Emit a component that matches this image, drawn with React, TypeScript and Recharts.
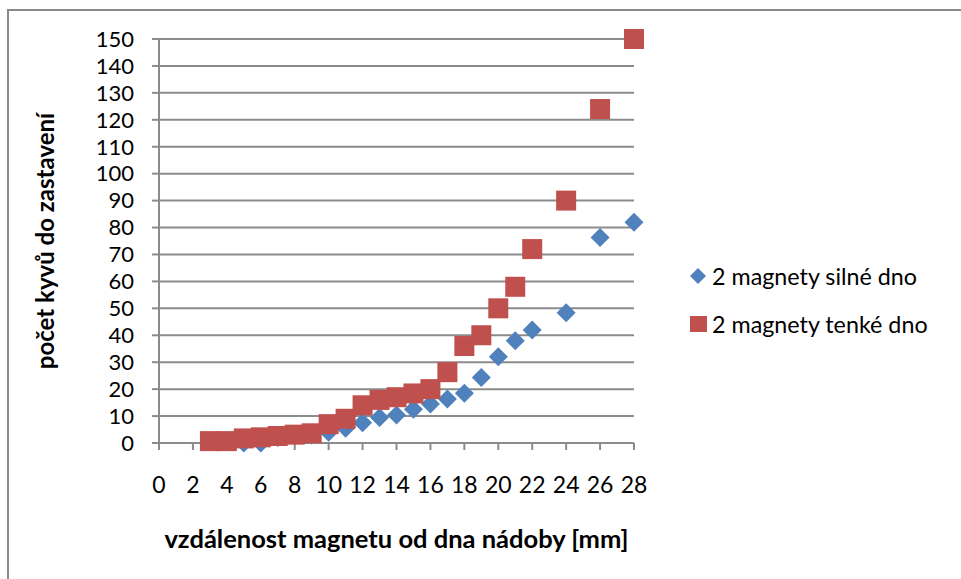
import { ScatterChart, Scatter, XAxis, YAxis, CartesianGrid, Label } from 'recharts';

// vzdálenost [mm] a počet kyvů – silné dno
const silneDist = [5, 6, 7, 8, 9, 10, 11, 12, 13, 14, 15, 16, 17, 18, 19, 20, 21, 22, 24, 26, 28];
const silneKyvy = [0, 0, 2, 3, 3, 4, 5.5, 7.5, 9.5, 10.4, 12.5, 14.5, 16.3, 18.5, 24.3, 32, 38, 42, 48.4, 76.3, 82];

// vzdálenost [mm] a počet kyvů – tenké dno
const tenkeDist = [3, 4, 5, 6, 7, 8, 9, 10, 11, 12, 13, 14, 15, 16, 17, 18, 19, 20, 21, 22, 24, 26, 28];
const tenkeKyvy = [0.7, 0.7, 1.7, 2.1, 2.6, 3.1, 3.6, 7, 9, 14, 16, 17, 18.4, 20, 26.3, 36, 40, 50, 58, 72, 90, 124, 150];

const xTicks = [0, 2, 4, 6, 8, 10, 12, 14, 16, 18, 20, 22, 24, 26, 28];
const yTicks = [0, 10, 20, 30, 40, 50, 60, 70, 80, 90, 100, 110, 120, 130, 140, 150];

const seriesNames = ['2 magnety silné dno', '2 magnety tenké dno'];

const BLUE = '#4F81BD';
const RED = '#C0504D';
const GRID = '#8b8b8b';
const FONT = 'Lato, "Open Sans", sans-serif';

const silne = silneDist.map((x, i) => ({ x, y: silneKyvy[i] }));
const tenke = tenkeDist.map((x, i) => ({ x, y: tenkeKyvy[i] }));

const Diamond = (props: any) => {
  const { cx, cy } = props;
  const r = 9.5;
  return (
    <polygon
      points={`${cx},${cy - r} ${cx + r},${cy} ${cx},${cy + r} ${cx - r},${cy}`}
      fill={BLUE}
    />
  );
};

const Square = (props: any) => {
  const { cx, cy } = props;
  return <rect x={cx - 10} y={cy - 10} width={20} height={20} fill={RED} />;
};

const tickStyle = { fill: '#000', fontSize: 22, fontFamily: FONT };

const LegendBox = () => (
  <div
    style={{
      position: 'absolute',
      left: 688,
      top: 252,
      fontFamily: FONT,
      fontSize: 23.3,
      color: '#000',
    }}
  >
    {seriesNames.map((name, i) => (
      <div key={name} style={{ display: 'flex', alignItems: 'center', height: 48 }}>
        <svg width={22} height={22} style={{ marginRight: 2 }}>
          {i === 0 ? (
            <polygon points="10,3 18,11 10,19 2,11" fill={BLUE} />
          ) : (
            <rect x={2} y={3} width={17} height={16} fill={RED} />
          )}
        </svg>
        <span style={{ lineHeight: '48px' }}>{name}</span>
      </div>
    ))}
  </div>
);

export default function App() {
  return (
    <div
      style={{
        position: 'absolute',
        left: 0,
        top: 0,
        width: 961,
        height: 579,
        overflow: 'hidden',
        background: '#fff',
      }}
    >
      <div
        style={{
          position: 'absolute',
          left: 7,
          top: 9,
          width: 1000,
          height: 1000,
          border: `2px solid ${GRID}`,
        }}
      />
      <div style={{ position: 'absolute', left: 0, top: 0 }}>
        <ScatterChart width={961} height={579} margin={{ top: 39, right: 327, bottom: 0, left: 0 }}>
          <CartesianGrid vertical={false} stroke={GRID} strokeWidth={2} />
          <XAxis
            type="number"
            dataKey="x"
            domain={[0, 28]}
            ticks={xTicks}
            interval={0}
            height={136}
            stroke={GRID}
            strokeWidth={2}
            tickSize={7}
            tickMargin={27}
            tick={{ ...tickStyle, fontSize: 23 }}
          >
            <Label
              content={(p: any) => {
                const vb = p.viewBox;
                return (
                  <text
                    x={vb.x + vb.width / 2}
                    y={vb.y + 95}
                    textAnchor="middle"
                    dominantBaseline="central"
                    fontFamily={FONT}
                    fontSize={25.5}
                    fontWeight="bold"
                    fill="#000"
                  >
                    vzdálenost magnetu od dna nádoby [mm]
                  </text>
                );
              }}
            />
          </XAxis>
          <YAxis
            type="number"
            dataKey="y"
            domain={[0, 150]}
            ticks={yTicks}
            interval={0}
            width={159}
            stroke={GRID}
            strokeWidth={2}
            tickSize={7}
            tickMargin={18}
            tick={tickStyle}
          >
            <Label
              content={(p: any) => {
                const vb = p.viewBox;
                const cx = vb.x + 44;
                const cy = vb.y + vb.height / 2;
                return (
                  <text
                    x={cx}
                    y={cy}
                    transform={`rotate(-90 ${cx} ${cy})`}
                    textAnchor="middle"
                    dominantBaseline="central"
                    fontFamily={FONT}
                    fontSize={24}
                    fontWeight="bold"
                    fill="#000"
                  >
                    počet kyvů do zastavení
                  </text>
                );
              }}
            />
          </YAxis>
          <Scatter name={seriesNames[0]} data={silne} shape={Diamond} isAnimationActive={false} />
          <Scatter name={seriesNames[1]} data={tenke} shape={Square} isAnimationActive={false} />
        </ScatterChart>
      </div>
      <LegendBox />
    </div>
  );
}
